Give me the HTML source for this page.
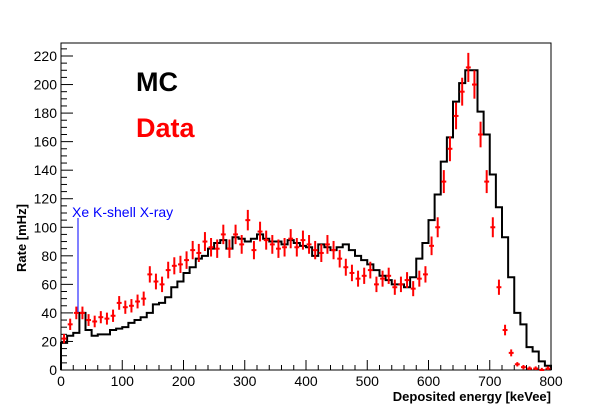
<!DOCTYPE html>
<html><head><meta charset="utf-8"><style>
html,body{margin:0;padding:0;background:#fff;}
svg{display:block;font-family:"Liberation Sans",Arial,sans-serif;}
</style></head><body>
<svg id="chart" width="612" height="412" viewBox="0 0 612 412">
<rect x="61" y="43" width="490" height="327" fill="none" stroke="#000" stroke-width="1"/>
<g id="axes"></g>
<g id="mc"></g>
<g id="data"></g>
<text x="136" y="91" font-size="27" font-weight="bold" fill="#000">MC</text>
<text x="136" y="137" font-size="27" font-weight="bold" fill="#ff0000">Data</text>
<line x1="78" y1="218" x2="78" y2="312" stroke="#0000ff" stroke-width="1"/>
<text x="72" y="217" font-size="14" fill="#0000ff">Xe K-shell X-ray</text>
<text transform="translate(26,272) rotate(-90)" font-size="13" font-weight="bold" text-anchor="start">Rate [mHz]</text>
<text x="551" y="401" font-size="13" font-weight="bold" text-anchor="end">Deposited energy [keVee]</text>
</svg>
<script>
const binStart=[0,10,20,30,40,50,60,70,80,90,100,110,120,130,140,150,160,170,180,190,200,210,220,230,240,250,260,270,280,290,300,310,320,330,340,350,360,370,380,390,400,410,420,430,440,450,460,470,480,490,500,510,520,530,540,550,560,570,580,590,600,610,620,630,640,650,660,670,680,690,700,710,720,730,740,750,760,770,780,790];
const mcValues=[19,24,26,40,28,24,25,25,28,29,30,33,35,37,40,46,47,51,58,62,68,72,78,80,85,89,91,85,93,92,90,92,95,92,90,90,88,91,89,87,86,80,88,86,84,86,88,84,80,77,74,70,66,63,60,60,58,65,78,89,105,123,146,163,188,201,210,210,181,165,137,114,93,65,40,32,16,13,6,3];
const dataValues=[22,32,40,40,35,34,37,36,38,47,44,45,48,50,67,62,60,70,73,74,77,84,82,90,86,85,95,85,95,88,105,84,97,91,88,85,86,92,86,91,88,84,82,88,84,78,72,68,64,66,70,60,64,66,58,60,63,57,64,67,87,100,132,155,178,195,212,200,165,132,100,58,28,12,4,2,1,1,0,1];
const yTicks=[0,20,40,60,80,100,120,140,160,180,200,220];
const xTicks=[0,100,200,300,400,500,600,700,800];
const X0=61,X1=551,Y0=370,Y1=56,XMAX=800,YMAX=220;
const ns="http://www.w3.org/2000/svg";
function sx(v){return X0+(X1-X0)*v/XMAX;}
function sy(v){return Y0-(Y0-Y1)*v/YMAX;}
function mk(t,a,p){const e=document.createElementNS(ns,t);for(const k in a)e.setAttribute(k,a[k]);p.appendChild(e);return e;}
const ax=document.getElementById('axes');
yTicks.forEach((t,i)=>{
 const l=mk('line',{x1:X0,x2:X0+12,y1:sy(t),y2:sy(t),stroke:'#000'},ax);
 
 
 const tx=mk('text',{x:X0-4,y:sy(t)+5,'font-size':14,'text-anchor':'end'},ax);
 tx.textContent=t;
 
 
 if(i<yTicks.length-1){for(let k=1;k<4;k++){const v=t+k*5;mk('line',{x1:X0,x2:X0+6,y1:sy(v),y2:sy(v),stroke:'#000'},ax);}}
});
for(let v=225;v<=YMAX+8;v+=5){if(sy(v)>43)mk('line',{x1:X0,x2:X0+6,y1:sy(v),y2:sy(v),stroke:'#000'},ax);}
xTicks.forEach((t,i)=>{
 const l=mk('line',{x1:sx(t),x2:sx(t),y1:Y0,y2:Y0-10,stroke:'#000'},ax);
 
 
 const tx=mk('text',{x:sx(t),y:Y0+16,'font-size':14,'text-anchor':'middle'},ax);
 tx.textContent=t;
 
 
 if(i<xTicks.length-1){for(let k=1;k<5;k++){const v=t+k*20;mk('line',{x1:sx(v),x2:sx(v),y1:Y0,y2:Y0-5,stroke:'#000'},ax);}}
});
let d='M'+sx(0)+','+Y0;
binStart.forEach((b,i)=>{d+=' L'+sx(b)+','+sy(mcValues[i])+' L'+sx(b+10)+','+sy(mcValues[i]);});
d+=' L'+sx(800)+','+Y0;
const mc=mk('path',{d:d,fill:'none',stroke:'#000','stroke-width':2},document.getElementById('mc'));


const dg=document.getElementById('data');
binStart.forEach((b,i)=>{
 const v=dataValues[i];const cx=sx(b+5),cy=sy(v);const err=Math.max(1.5,Math.sqrt(v)*0.7);
 const g=mk('g',{},dg);
 
 
 mk('line',{x1:cx,x2:cx,y1:sy(v+err),y2:Math.min(Y0,sy(v-err)),stroke:'#ff0000','stroke-width':2},g);
 mk('line',{x1:sx(b+1),x2:sx(b+9),y1:cy,y2:cy,stroke:'#ff0000','stroke-width':2},g);
});
</script>
</body></html>
